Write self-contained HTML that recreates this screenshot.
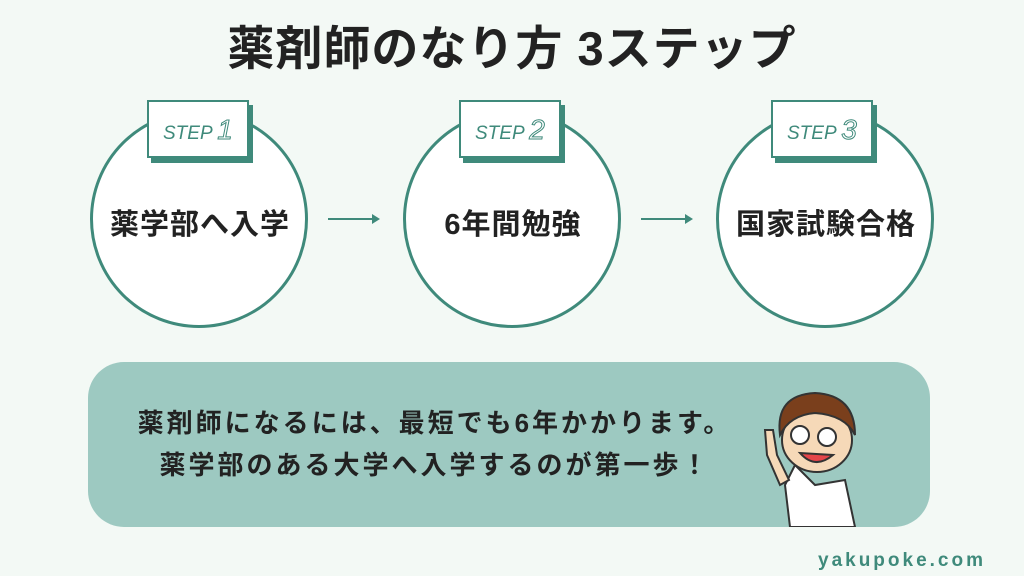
<!DOCTYPE html><html><head><meta charset="utf-8"><style>
body{margin:0;width:1024px;height:576px;background:#f3f9f5;position:relative;overflow:hidden;font-family:"Liberation Sans","Noto Sans CJK JP",sans-serif;color:#222}
.t{position:absolute;left:0;width:1024px;top:10px;text-align:center;font-size:47px;font-weight:bold;letter-spacing:1px}
.c{position:absolute;width:218px;height:218px;border:3px solid #3f8a7b;border-radius:50%;background:#fff;box-sizing:border-box}
.l{position:absolute;width:218px;text-align:center;font-size:29px;font-weight:bold;letter-spacing:1px}
.s{position:absolute;width:102px;height:58px;background:#fff;border:2px solid #3f8a7b;box-shadow:4px 5px 0 #3f8a7b;box-sizing:border-box;font-family:"Liberation Sans",sans-serif;color:#3f8a7b;font-size:19px;padding:12px 0 0 14px;font-style:italic}
.s b{font-size:28px;font-weight:normal;-webkit-text-stroke:1px #3f8a7b;color:#fff}
.a{position:absolute;height:2px;width:50px;background:#3f8a7b;top:218px}
.a:after{content:"";position:absolute;right:-2px;top:-4px;border-left:8px solid #3f8a7b;border-top:5px solid transparent;border-bottom:5px solid transparent}
.p{position:absolute;left:88px;top:362px;width:842px;height:165px;border-radius:36px;background:#9dc9c1}
.m{position:absolute;left:95px;top:402px;width:680px;text-align:center;font-size:26px;font-weight:bold;line-height:42px;letter-spacing:3px}
</style></head><body>
<div class="t">薬剤師のなり方 3ステップ</div>
<div class="c" style="left:90px;top:110px"></div>
<div class="c" style="left:403px;top:110px"></div>
<div class="c" style="left:716px;top:110px"></div>
<div class="s" style="left:147px;top:100px">STEP <b>1</b></div>
<div class="s" style="left:459px;top:100px">STEP <b>2</b></div>
<div class="s" style="left:771px;top:100px">STEP <b>3</b></div>
<div class="l" style="left:91px;top:201px">薬学部へ入学</div>
<div class="l" style="left:404px;top:201px">6年間勉強</div>
<div class="l" style="left:717px;top:201px">国家試験合格</div>
<div class="a" style="left:328px"></div>
<div class="a" style="left:641px"></div>
<div class="p"></div>
<div class="m">薬剤師になるには、最短でも6年かかります。<br>薬学部のある大学へ入学するのが第一歩！</div>
<svg style="position:absolute;left:755px;top:385px" width="110" height="142">
<path d="M40 80 L60 100 L90 95 L100 142 L35 142 L30 100Z" fill="#fff" stroke="#333" stroke-width="2"/>
<path d="M10 45 L18 45 L22 70 L34 95 L25 100 L12 70Z" fill="#f6d9b8" stroke="#333" stroke-width="2"/>
<ellipse cx="62" cy="55" rx="35" ry="32" fill="#f6d9b8" stroke="#333" stroke-width="2"/>
<path d="M25 50 Q20 10 60 8 Q100 10 100 50 Q90 30 60 28 Q35 30 25 50Z" fill="#7a3f1c" stroke="#333" stroke-width="2"/>
<circle cx="45" cy="50" r="9" fill="#fff" stroke="#333" stroke-width="2"/>
<circle cx="72" cy="52" r="9" fill="#fff" stroke="#333" stroke-width="2"/>
<path d="M45 68 Q60 85 78 70Z" fill="#e5454a" stroke="#333" stroke-width="2"/>
</svg>
<div style="position:absolute;left:818px;top:550px;font-size:19px;color:#3f8a7b;font-weight:bold;letter-spacing:3px">yakupoke.com</div>
</body></html>
